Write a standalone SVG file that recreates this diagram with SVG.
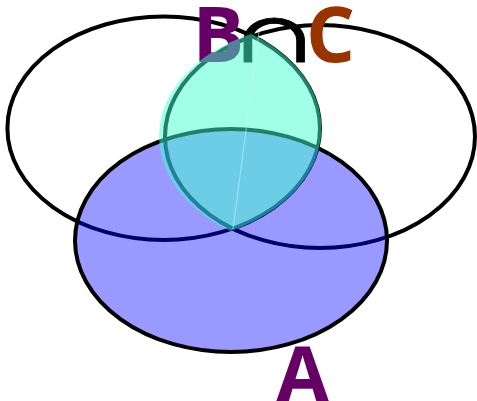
<svg xmlns="http://www.w3.org/2000/svg" width="477" height="401" viewBox="0 0 477 401">
<style>
.set{fill:none;stroke:#000;stroke-width:4}
.lbl{font-family:"Open Sans","DejaVu Sans",sans-serif;font-weight:bold;font-size:77px}
</style>
<defs>
<clipPath id="clipB"><ellipse cx="163.7" cy="128.2" rx="157.8" ry="113.3"/></clipPath>
</defs>
<g id="setB"><ellipse class="set" cx="163.7" cy="128.2" rx="156.3" ry="111.8"/></g>
<g id="setC"><ellipse class="set" cx="320" cy="136.5" rx="155" ry="111.5"/></g>
<g id="setA"><ellipse cx="231" cy="240.5" rx="156" ry="111.5" fill="#0000ff" fill-opacity="0.4" stroke="#000" stroke-width="4"/></g>
<g id="label">
<text class="lbl" x="192.5" y="62" fill="#660066">B</text>
<text transform="translate(234,62) scale(1.2,0.88)" x="0" y="0" font-family="DejaVu Serif,serif" font-size="80" fill="#000" stroke="#000" stroke-width="1">∩</text>
<text class="lbl" x="306" y="62" fill="#993300">C</text>
</g>
<g id="setBC">
<ellipse cx="318" cy="136.5" rx="159" ry="113" fill="#41ffcd" fill-opacity="0.5" clip-path="url(#clipB)"/>
<line x1="259" y1="32" x2="233" y2="229" stroke="#c0fff0" stroke-width="1" stroke-opacity="0.6"/>
</g>
<g id="labelA"><text class="lbl" x="276" y="402" fill="#660066">A</text></g>
</svg>
